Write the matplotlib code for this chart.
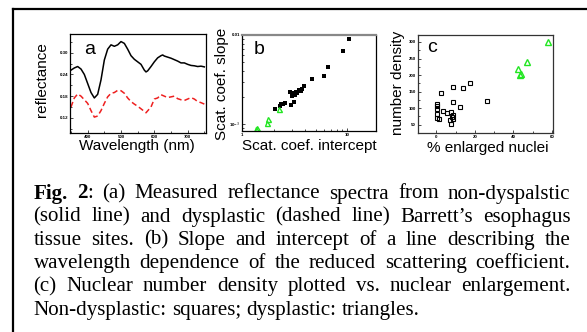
import matplotlib
matplotlib.use('Agg')
import matplotlib.pyplot as plt
from matplotlib.lines import Line2D
from matplotlib.ticker import AutoMinorLocator, LogLocator, NullFormatter, FixedLocator, FixedFormatter

# ---- data ----
# (a) reflectance spectra
wl_solid = [350, 360, 370, 380, 390, 400, 410, 420, 430, 440, 450, 460, 470, 480, 490,
            500, 510, 520, 530, 540, 550, 560, 570, 575, 580, 590, 600, 610, 620, 625,
            630, 640, 650, 660, 670, 680, 690, 700, 710, 720, 730, 740, 750]
refl_solid = [0.252, 0.258, 0.262, 0.255, 0.240, 0.215, 0.190, 0.175, 0.185, 0.225, 0.280,
              0.310, 0.322, 0.318, 0.322, 0.331, 0.326, 0.310, 0.292, 0.282, 0.275, 0.268,
              0.252, 0.247, 0.250, 0.262, 0.275, 0.286, 0.292, 0.294, 0.291, 0.288, 0.285,
              0.281, 0.277, 0.272, 0.272, 0.268, 0.265, 0.264, 0.262, 0.263, 0.261]
wl_dash = [350, 360, 370, 380, 390, 400, 410, 420, 430, 440, 450, 460, 470, 480, 490,
           500, 510, 520, 530, 540, 550, 560, 575, 590, 600, 610, 620, 630, 640, 650,
           660, 670, 680, 690, 700, 710, 720, 730, 740, 750]
refl_dash = [0.150, 0.175, 0.186, 0.180, 0.170, 0.160, 0.140, 0.122, 0.125, 0.140, 0.160,
             0.178, 0.188, 0.190, 0.196, 0.195, 0.188, 0.175, 0.165, 0.158, 0.152, 0.145,
             0.134, 0.150, 0.172, 0.175, 0.184, 0.180, 0.176, 0.178, 0.180, 0.173, 0.170,
             0.168, 0.172, 0.176, 0.172, 0.165, 0.162, 0.158]

# (b) scattering slope vs intercept
b_nd_x = [10.3, 9.2, 6.6, 6.05, 4.62, 3.9, 3.76, 3.66, 3.45, 3.28, 3.15, 2.88, 2.96,
          3.09, 2.94, 2.58, 2.48, 2.35, 2.28, 2.07, 3.35, 3.2]
b_nd_y = [0.0090, 0.0066, 0.00435, 0.00348, 0.00319, 0.00268, 0.00248, 0.00238, 0.00242,
          0.00232, 0.00225, 0.00232, 0.00207, 0.00176, 0.00166, 0.00173, 0.00170, 0.00167,
          0.00162, 0.00147, 0.00222, 0.00215]
b_d_x = [2.23, 1.77, 1.73, 1.36, 1.38]
b_d_y = [0.00147, 0.00115, 0.00103, 0.00089, 0.00090]

# (c) number density vs % enlarged nuclei
c_nd_x = [2.4, 8.4, 13.6, 17.3, 26.4, 12.5, 8.4, 0.3, 0.3, 0.3, 0.3, 0.3, 1.5, 3.4, 5.5,
          7.4, 8.1, 8.6, 7.2, 7.7, 8.4]
c_nd_y = [146, 165, 160, 175, 123, 103, 118, 114, 106, 99, 81, 69, 66, 92, 86, 89, 74,
          68, 64, 52, 79]
c_d_x = [57.9, 47.0, 42.4, 44.1, 43.4]
c_d_y = [301, 239, 217, 203, 200]

caption_lines = [
    "Fig. 2: (a) Measured reflectance spectra from non-dyspalstic",
    "(solid line) and dysplastic (dashed line) Barrett\u2019s esophagus",
    "tissue sites. (b) Slope and intercept of a line describing the",
    "wavelength dependence of the reduced scattering coefficient.",
    "(c) Nuclear number density plotted vs. nuclear enlargement.",
    "Non-dysplastic: squares; dysplastic: triangles.",
]

W, H = 587, 332
GREEN = '#22e622'
sans = ['Liberation Sans', 'DejaVu Sans']
serif = ['Liberation Serif', 'DejaVu Serif']
lab_fs = 11
tick_fs = 3.2

fig = plt.figure(figsize=(W / 100, H / 100), dpi=100)


def px_axes(l, t, r, b):
    return fig.add_axes([l / W, 1 - b / H, (r - l) / W, (b - t) / H])


def style(ax, spine_color='black'):
    for s in ax.spines.values():
        s.set_color(spine_color)
        s.set_linewidth(0.9)
    ax.tick_params(which='both', direction='in', labelsize=tick_fs, pad=1.5,
                   top=False, right=False, width=0.5)
    ax.tick_params(which='major', length=2.5)
    ax.tick_params(which='minor', length=1.5)
    for lbl in ax.get_xticklabels() + ax.get_yticklabels():
        lbl.set_fontweight('bold')
        lbl.set_family(sans)


def ftext(x, y, s, **kw):
    kw.setdefault('family', sans)
    return fig.text(x / W, 1 - y / H, s, **kw)


# ---- panel a ----
ax = px_axes(70, 34, 206, 133)
ax.plot(wl_solid, refl_solid, color='black', lw=1.1)
ax.plot(wl_dash, refl_dash, color='#ee2020', lw=1.1, dashes=(3.5, 2))
ax.set_xlim(347, 755)
ax.set_ylim(0.078, 0.352)
ax.set_xticks([400, 500, 600, 700])
ax.set_yticks([0.12, 0.18, 0.24, 0.30])
ax.set_yticklabels(['0.12', '0.18', '0.24', '0.30'])
ax.xaxis.set_minor_locator(AutoMinorLocator(2))
ax.yaxis.set_minor_locator(AutoMinorLocator(2))
style(ax)
ftext(90, 49, 'a', fontsize=14, ha='center', va='center')
ftext(42, 80, 'reflectance', fontsize=lab_fs, rotation=90, ha='center', va='center')
ftext(137, 146, 'Wavelength (nm)', fontsize=lab_fs, ha='center', va='center')

# ---- panel b ----
ax = px_axes(242, 35, 376, 131)
ax.plot(b_nd_x, b_nd_y, 's', color='black', ms=3.2, mew=0)
ax.plot(b_d_x, b_d_y, '^', mfc='none', mec=GREEN, ms=3.6, mew=1.0)
ax.set_xscale('log')
ax.set_yscale('log')
ax.set_xlim(1, 18.8)
ax.set_ylim(8.4e-4, 0.01)
ax.xaxis.set_major_locator(FixedLocator([1, 10]))
ax.xaxis.set_major_formatter(FixedFormatter(['1', '10']))
ax.yaxis.set_major_locator(FixedLocator([1e-3, 1e-2]))
ax.yaxis.set_major_formatter(FixedFormatter(['10$^{-3}$', '0.01']))
ax.xaxis.set_minor_locator(LogLocator(base=10, subs=range(2, 10)))
ax.yaxis.set_minor_locator(LogLocator(base=10, subs=range(2, 10)))
ax.xaxis.set_minor_formatter(NullFormatter())
ax.yaxis.set_minor_formatter(NullFormatter())
style(ax)
ax.spines['top'].set_color('#888888')
ax.spines['top'].set_linewidth(1.6)
ftext(259, 49, 'b', fontsize=14, ha='center', va='center')
ftext(222, 84, 'Scat. coef. slope', fontsize=lab_fs, rotation=90, ha='center', va='center')
ftext(242, 146, 'Scat. coef. intercept', fontsize=lab_fs, ha='left', va='center')

# ---- panel c ----
ax = px_axes(418, 35, 553, 133)
ax.plot(c_nd_x, c_nd_y, 's', mfc='none', mec='black', ms=3.4, mew=0.8)
ax.plot(c_d_x, c_d_y, '^', mfc='none', mec=GREEN, ms=3.8, mew=1.0)
ax.set_xlim(-9.5, 60.5)
ax.set_ylim(25, 321)
ax.set_xticks([0, 20, 40, 60])
ax.set_yticks([50, 100, 150, 200, 250, 300])
ax.xaxis.set_minor_locator(AutoMinorLocator(2))
ax.yaxis.set_minor_locator(AutoMinorLocator(2))
style(ax, '#333333')
ftext(432, 48, 'c', fontsize=14, ha='center', va='center')
ftext(398, 83, 'number density', fontsize=lab_fs, rotation=90, ha='center', va='center')
ftext(488, 148, '% enlarged nuclei', fontsize=lab_fs, ha='center', va='center')

# ---- outer frame (top and left edges) ----
fig.add_artist(Line2D([12.5 / W, 1], [1 - 8.5 / H, 1 - 8.5 / H], color='black', lw=1.6,
                      transform=fig.transFigure))
fig.add_artist(Line2D([12.5 / W, 12.5 / W], [0, 1 - 8.5 / H], color='black', lw=1.6,
                      transform=fig.transFigure))

# ---- justified caption ----
renderer = fig.canvas.get_renderer()


def word_width(word, fs, weight='normal'):
    t = fig.text(0, 0, word, fontsize=fs, family=serif, fontweight=weight)
    w = t.get_window_extent(renderer).width
    t.remove()
    return w


x_left, x_right = 33.5, 570.5
# calibrate font size from the last (left aligned) line, ~385 px wide
fs0 = 10
cap_fs = fs0 * 385 / word_width(caption_lines[-1], fs0)
space_w = word_width('a a', cap_fs) - 2 * word_width('a', cap_fs)

base0, step = 198.5, 23.2
for i, line in enumerate(caption_lines):
    yb = base0 + i * step
    words = line.split(' ')
    # pieces: (text, weight) per word
    pieces = []
    for j, w in enumerate(words):
        if i == 0 and j == 0:
            pieces.append([('Fig.', 'bold')])
        elif i == 0 and j == 1:
            pieces.append([('2', 'bold'), (':', 'normal')])
        else:
            pieces.append([(w, 'normal')])
    widths = [sum(word_width(s, cap_fs, wt) for s, wt in p) for p in pieces]
    if i < len(caption_lines) - 1:
        gap = (x_right - x_left - sum(widths)) / (len(pieces) - 1)
    else:
        gap = space_w
    x = x_left
    for p, wd in zip(pieces, widths):
        xx = x
        for s, wt in p:
            fig.text(xx / W, 1 - yb / H, s, fontsize=cap_fs, family=serif, fontweight=wt,
                     ha='left', va='baseline')
            xx += word_width(s, cap_fs, wt)
        x += wd + gap

fig.savefig('out.png', dpi=100)
